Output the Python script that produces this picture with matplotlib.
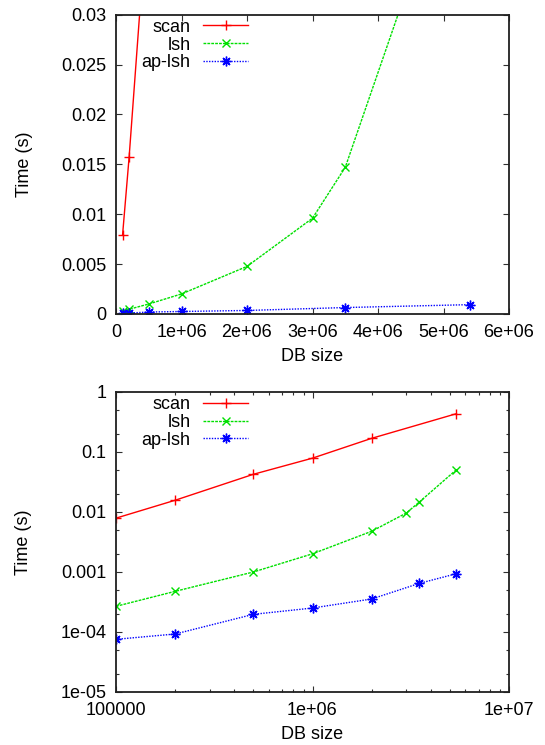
import matplotlib
matplotlib.use("Agg")
import matplotlib.pyplot as plt
from matplotlib.ticker import FixedLocator, FixedFormatter, LogLocator, NullFormatter

plt.rcParams['font.family'] = ['Liberation Sans', 'DejaVu Sans']

# data
scan_x = [1e5, 2e5, 5e5, 1e6, 2e6, 5.4e6]
scan_y = [0.0079, 0.0157, 0.0425, 0.079, 0.169, 0.435]
lsh_x = [1e5, 2e5, 5e5, 1e6, 2e6, 3e6, 3.5e6, 5.4e6]
lsh_y = [0.000268, 0.000476, 0.001, 0.00201, 0.00477, 0.0096, 0.0147, 0.0508]
ap_x = [1e5, 2e5, 5e5, 1e6, 2e6, 3.5e6, 5.4e6]
ap_y = [0.0000755, 0.0000926, 0.000197, 0.000251, 0.000355, 0.000647, 0.000937]

lin_xticks = [0, 1e6, 2e6, 3e6, 4e6, 5e6, 6e6]
lin_xlabels = ["0", "1e+06", "2e+06", "3e+06", "4e+06", "5e+06", "6e+06"]
lin_yticks = [0, 0.005, 0.01, 0.015, 0.02, 0.025, 0.03]
lin_ylabels = ["0", "0.005", "0.01", "0.015", "0.02", "0.025", "0.03"]
log_xticks = [1e5, 1e6, 1e7]
log_xlabels = ["100000", "1e+06", "1e+07"]
log_yticks = [1e-5, 1e-4, 1e-3, 1e-2, 1e-1, 1]
log_ylabels = ["1e-05", "1e-04", "0.001", "0.01", "0.1", "1"]

W, H = 545, 745
fig = plt.figure(figsize=(W / 100, H / 100), dpi=100)

def px_axes(l, t, r, b):
    return fig.add_axes([l / W, 1 - b / H, (r - l) / W, (b - t) / H])

ax1 = px_axes(116, 14.7, 509, 314)
ax2 = px_axes(116, 392, 509, 692)

red = '#ff0000'
green = '#00e000'
blue = '#0000ff'
asterisk = (8, 2, 0)
FS = 13

styles = [
    dict(color=red, lw=1.0, ls='-', marker='+', ms=7, mew=1.0, label='scan'),
    dict(color=green, lw=1.0, ls=(0, (2, 0.8)), marker='x', ms=5.5, mew=1.0, label='lsh'),
    dict(color=blue, lw=1.0, ls=(0, (1, 1)), marker=asterisk, ms=7, mew=1.0, label='ap-lsh'),
]

for ax in (ax1, ax2):
    ax.plot(scan_x, scan_y, **styles[0])
    ax.plot(lsh_x, lsh_y, **styles[1])
    ax.plot(ap_x, ap_y, **styles[2])
    for s in ax.spines.values():
        s.set_linewidth(1.3)
        s.set_color('#202020')
    ax.tick_params(which='both', direction='in', top=True, right=True,
                   labelsize=FS, pad=7, width=0.8, color='#303030')
    ax.tick_params(which='major', length=4)
    ax.tick_params(which='minor', length=2)
    ax.set_ylabel('Time (s)', fontsize=FS, labelpad=20)
    ax.set_xlabel('DB size', fontsize=FS, labelpad=5)
    leg = ax.legend(loc='upper left', bbox_to_anchor=(0.028, 1.035), frameon=False,
                    markerfirst=False, fontsize=FS, handlelength=2.5,
                    handletextpad=0.7, labelspacing=0.05, borderpad=0.3)

ax1.set_xlim(0, 6e6)
ax1.set_ylim(0, 0.03)
ax1.xaxis.set_major_locator(FixedLocator(lin_xticks))
ax1.xaxis.set_major_formatter(FixedFormatter(lin_xlabels))
ax1.yaxis.set_major_locator(FixedLocator(lin_yticks))
ax1.yaxis.set_major_formatter(FixedFormatter(lin_ylabels))

ax2.set_xscale('log')
ax2.set_yscale('log')
ax2.set_xlim(1e5, 1e7)
ax2.set_ylim(1e-5, 1)
ax2.xaxis.set_major_locator(FixedLocator(log_xticks))
ax2.xaxis.set_major_formatter(FixedFormatter(log_xlabels))
ax2.yaxis.set_major_locator(FixedLocator(log_yticks))
ax2.yaxis.set_major_formatter(FixedFormatter(log_ylabels))
ax2.xaxis.set_minor_locator(LogLocator(base=10, subs=range(2, 10)))
ax2.yaxis.set_minor_locator(LogLocator(base=10, subs=(2, 5)))
ax2.xaxis.set_minor_formatter(NullFormatter())
ax2.yaxis.set_minor_formatter(NullFormatter())

fig.savefig('out.png', dpi=100)
